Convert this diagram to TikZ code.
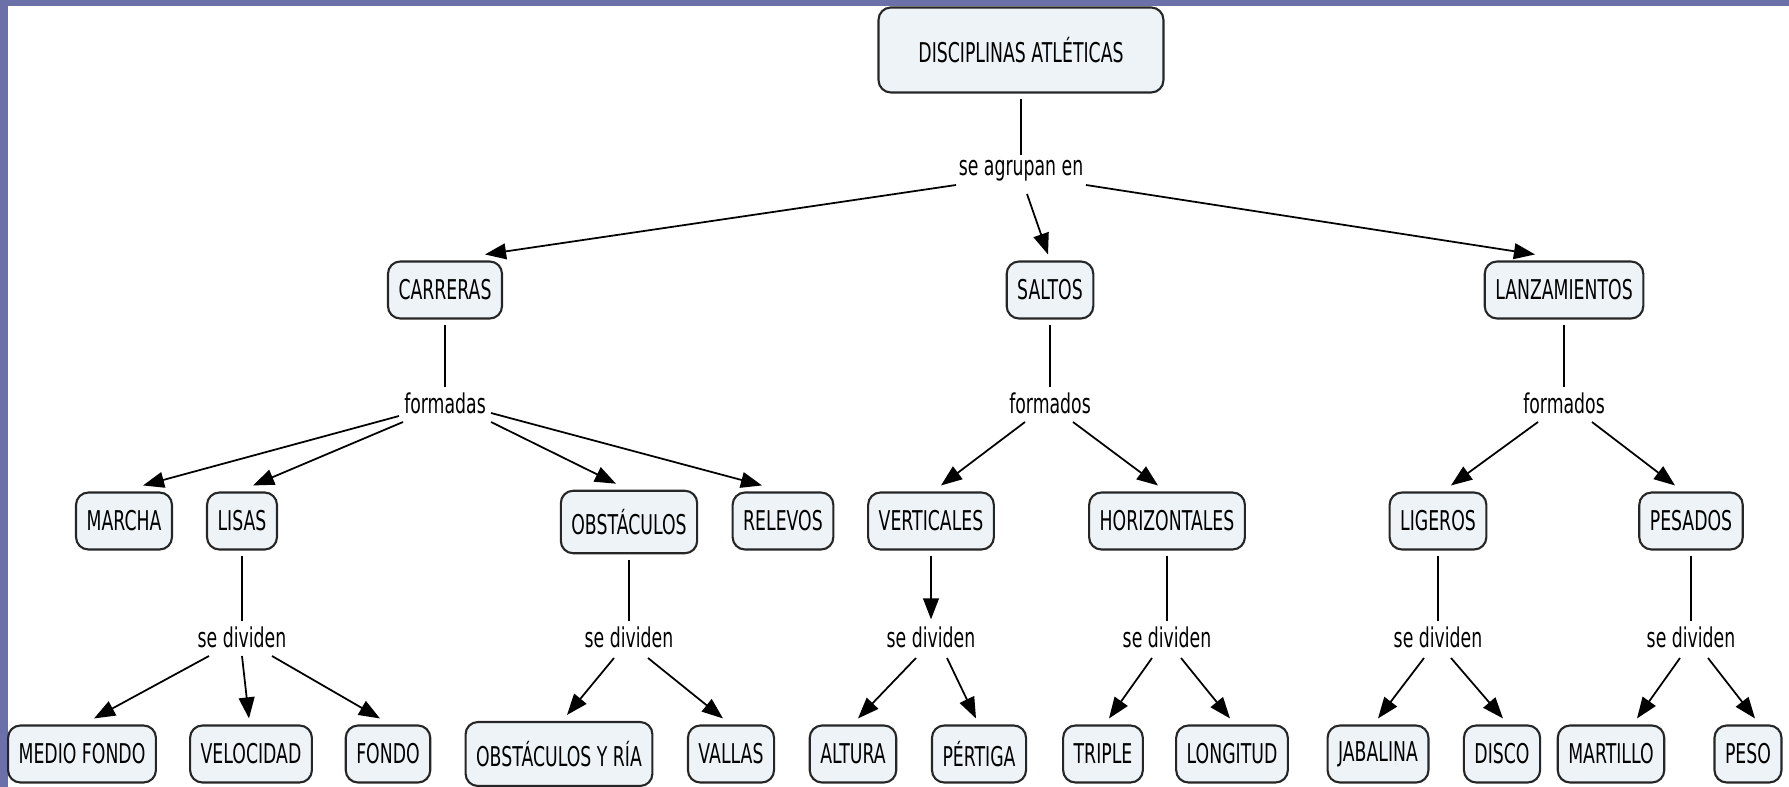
\documentclass[tikz,border=0pt]{standalone}
\usepackage{fontspec}
\setmainfont{DejaVu Sans}[FakeStretch=0.635]
\usetikzlibrary{calc,arrows.meta,positioning}
\definecolor{boxfill}{RGB}{237,243,246}
\definecolor{framecol}{RGB}{108,112,168}

\begin{document}
\begin{tikzpicture}[x=0.02cm, y=-0.02cm,
    font=\fontsize{15.5}{18}\selectfont,
    concept/.style={draw=black!85, line width=1.2pt, rounded corners=7pt, fill=boxfill,
        minimum height=1.14cm, inner xsep=6pt},
    phrase/.style={inner sep=1pt},
    link/.style={line width=0.9pt, shorten <=3pt, shorten >=2pt},
    arr/.style={line width=1pt, -{Triangle[length=12pt,width=9pt]}}]
    \useasboundingbox (0,0) rectangle (1789,787);
    \fill[framecol] (0,0) rectangle (8,787);
    \fill[framecol] (0,0) rectangle (1789,6);

    % top
    \node[concept, minimum width=5.7cm, minimum height=1.7cm] (disc) at (1021,50) {DISCIPLINAS ATLÉTICAS};
    \node[phrase] (agr) at (1021,171) {se agrupan en};

    % groups
    \node[concept] (carr) at (445,290) {CARRERAS};
    \node[concept] (salt) at (1050,290) {SALTOS};
    \node[concept] (lanz) at (1564,290) {LANZAMIENTOS};
    \node[phrase] (fcarr) at (445,403) {formadas};
    \node[phrase] (fsalt) at (1050,403) {formados};
    \node[phrase] (flanz) at (1564,403) {formados};

    % kinds
    \node[concept] (marcha) at (124,521) {MARCHA};
    \node[concept] (lisas) at (242,521) {LISAS};
    \node[concept, minimum height=1.25cm] (obst) at (629,522) {OBSTÁCULOS};
    \node[concept] (relev) at (783,521) {RELEVOS};
    \node[concept] (vert) at (931,521) {VERTICALES};
    \node[concept] (horiz) at (1167,521) {HORIZONTALES};
    \node[concept] (lig) at (1438,521) {LIGEROS};
    \node[concept] (pes) at (1691,521) {PESADOS};

    \node[phrase] (dlisas) at (242,637) {se dividen};
    \node[phrase] (dobst) at (629,637) {se dividen};
    \node[phrase] (dvert) at (931,637) {se dividen};
    \node[phrase] (dhoriz) at (1167,637) {se dividen};
    \node[phrase] (dlig) at (1438,637) {se dividen};
    \node[phrase] (dpes) at (1691,637) {se dividen};

    % events
    \node[concept] (medio) at (82,754) {MEDIO FONDO};
    \node[concept] (veloc) at (251,754) {VELOCIDAD};
    \node[concept] (fondo) at (388,754) {FONDO};
    \node[concept, minimum height=1.28cm] (ria) at (559,754) {OBSTÁCULOS Y RÍA};
    \node[concept] (vallas) at (731,754) {VALLAS};
    \node[concept] (altura) at (853,754) {ALTURA};
    \node[concept] (pert) at (979,754) {PÉRTIGA};
    \node[concept] (triple) at (1103,754) {TRIPLE};
    \node[concept] (longi) at (1232,754) {LONGITUD};
    \node[concept] (jab) at (1378,754) {JABALINA};
    \node[concept] (disco) at (1502,754) {DISCO};
    \node[concept] (mart) at (1611,754) {MARTILLO};
    \node[concept] (peso) at (1748,754) {PESO};

    % links
    \draw[link] (disc) -- (agr);
    \draw[arr] ($(agr)+(-65,14)$) -- ($(carr.north)+(40,-6)$);
    \draw[arr] ($(agr)+(6,23)$) -- ($(salt.north)+(-2,-6)$);
    \draw[arr] ($(agr)+(65,14)$) -- ($(lanz.north)+(-29,-6)$);

    \draw[link] (carr) -- (fcarr);
    \draw[link] (salt) -- (fsalt);
    \draw[link] (lanz) -- (flanz);
    \draw[arr] ($(fcarr)+(-46,13)$) -- ($(marcha.north)+(19,-6)$);
    \draw[arr] ($(fcarr)+(-42,19)$) -- ($(lisas.north)+(11,-6)$);
    \draw[arr] ($(fcarr)+(46,19)$) -- ($(obst.north)+(-13,-6)$);
    \draw[arr] ($(fcarr)+(46,10)$) -- ($(relev.north)+(-21,-6)$);
    \draw[arr] ($(fsalt)+(-25,19)$) -- ($(vert.north)+(10,-6)$);
    \draw[arr] ($(fsalt)+(23,19)$) -- ($(horiz.north)+(-9,-6)$);
    \draw[arr] ($(flanz)+(-26,19)$) -- ($(lig.north)+(13,-6)$);
    \draw[arr] ($(flanz)+(28,19)$) -- ($(pes.north)+(-16,-6)$);

    \draw[link] (lisas) -- (dlisas);
    \draw[link] (obst) -- (dobst);
    \draw[arr, shorten <=3pt] (vert.south) -- ($(dvert.north)+(0,-5)$);
    \draw[link] (horiz) -- (dhoriz);
    \draw[link] (lig) -- (dlig);
    \draw[link] (pes) -- (dpes);

    \draw[arr] ($(dlisas)+(-33,19)$) -- ($(medio.north)+(12,-6)$);
    \draw[arr] ($(dlisas)+(0,19)$) -- ($(veloc.north)+(-2,-6)$);
    \draw[arr] ($(dlisas)+(30,19)$) -- ($(fondo.north)+(-8,-6)$);
    \draw[arr] ($(dobst)+(-15,21)$) -- ($(ria.north)+(8,-6)$);
    \draw[arr] ($(dobst)+(19,21)$) -- ($(vallas.north)+(-8,-6)$);
    \draw[arr] ($(dvert)+(-15,21)$) -- ($(altura.north)+(5,-6)$);
    \draw[arr] ($(dvert)+(16,21)$) -- ($(pert.north)+(-3,-6)$);
    \draw[arr] ($(dhoriz)+(-15,21)$) -- ($(triple.north)+(6,-6)$);
    \draw[arr] ($(dhoriz)+(14,21)$) -- ($(longi.north)+(-2,-6)$);
    \draw[arr] ($(dlig)+(-14,21)$) -- ($(jab.north)+(0,-6)$);
    \draw[arr] ($(dlig)+(13,21)$) -- ($(disco.north)+(1,-6)$);
    \draw[arr] ($(dpes)+(-11,21)$) -- ($(mart.north)+(26,-6)$);
    \draw[arr] ($(dpes)+(17,21)$) -- ($(peso.north)+(7,-6)$);
\end{tikzpicture}
\end{document}
